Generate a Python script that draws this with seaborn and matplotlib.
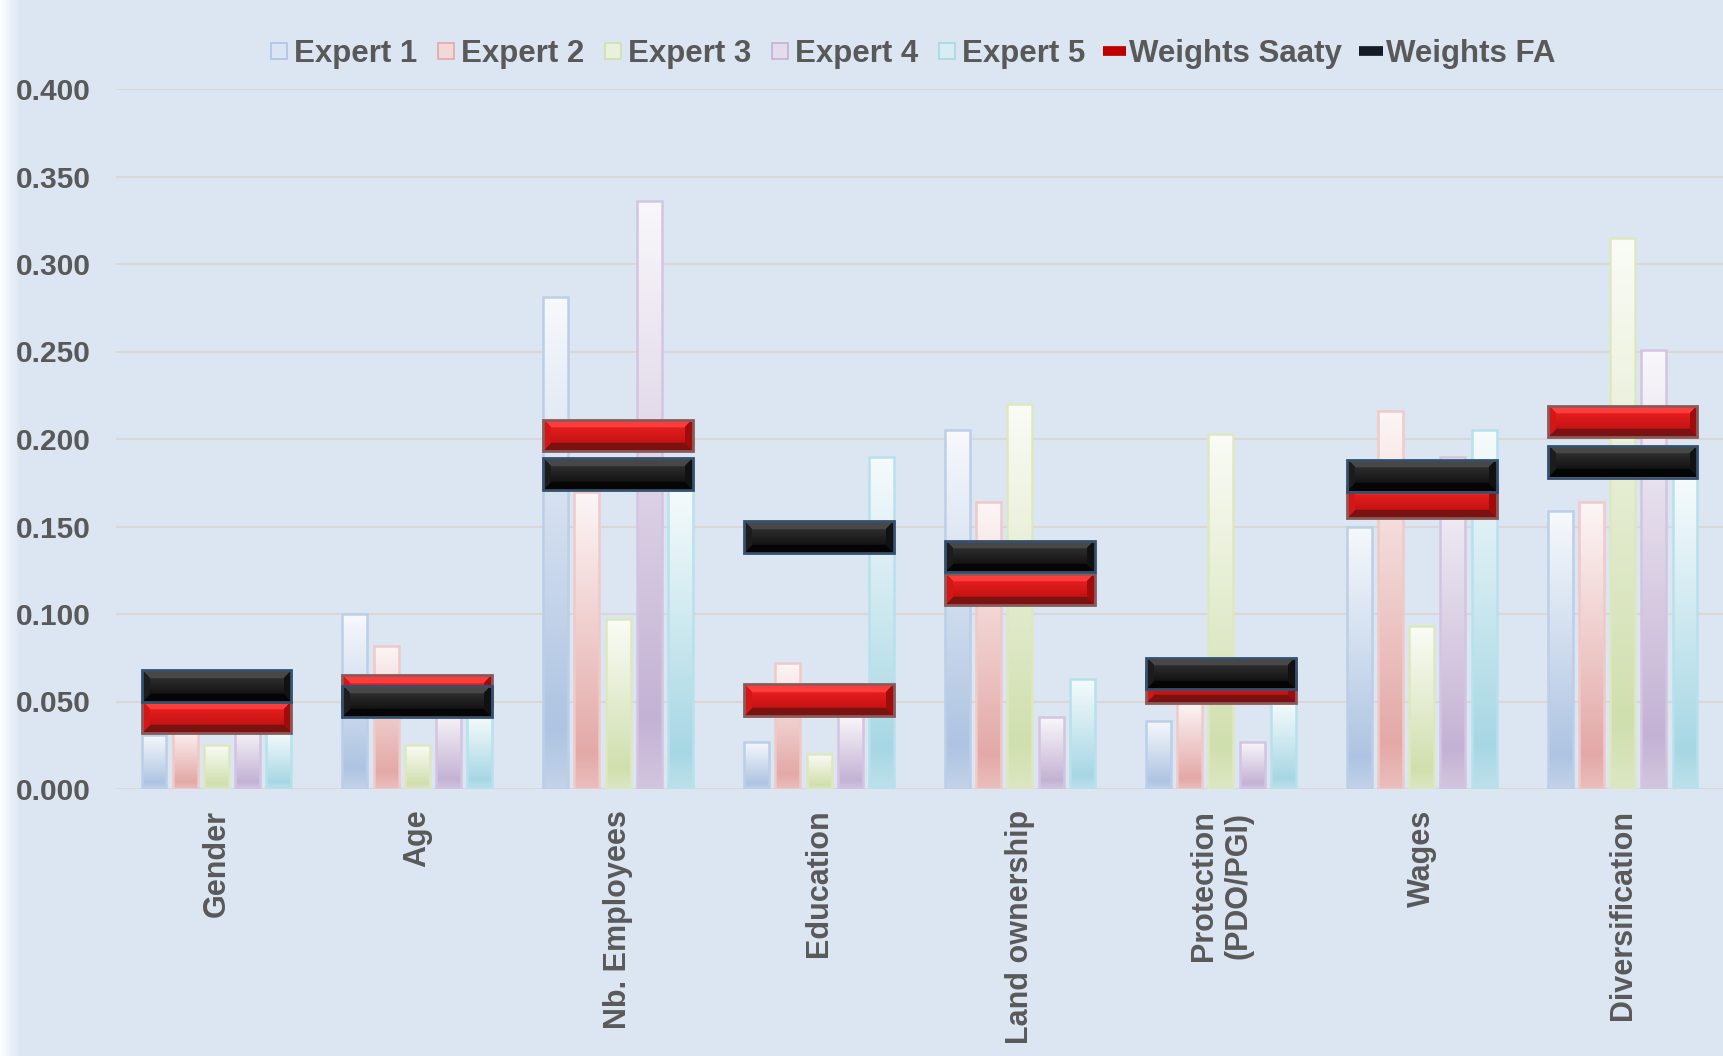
import numpy as np
import pandas as pd
import matplotlib
matplotlib.use("Agg")
import matplotlib.pyplot as plt
import seaborn as sns
from matplotlib.colors import LinearSegmentedColormap, to_rgb
from matplotlib.lines import Line2D

# ---------------- data ----------------
categories = ["Gender", "Age", "Nb. Employees", "Education", "Land ownership",
              "Protection\n(PDO/PGI)", "Wages", "Diversification"]
experts = ["Expert 1", "Expert 2", "Expert 3", "Expert 4", "Expert 5"]

expert1 = [0.031, 0.100, 0.281, 0.027, 0.205, 0.039, 0.150, 0.159]
expert2 = [0.035, 0.082, 0.170, 0.072, 0.164, 0.050, 0.216, 0.164]
expert3 = [0.025, 0.025, 0.097, 0.020, 0.220, 0.203, 0.093, 0.315]
expert4 = [0.035, 0.045, 0.336, 0.042, 0.041, 0.027, 0.190, 0.251]
expert5 = [0.033, 0.042, 0.172, 0.190, 0.063, 0.050, 0.205, 0.178]

weights_saaty = [0.041, 0.056, 0.202, 0.051, 0.114, 0.058, 0.164, 0.210]
weights_fa = [0.059, 0.050, 0.180, 0.144, 0.133, 0.066, 0.179, 0.187]

y_ticks = [0.0, 0.05, 0.10, 0.15, 0.20, 0.25, 0.30, 0.35, 0.40]

# ---------------- style ----------------
BG = "#dce6f2"
TEXT = "#595959"
GRID = "#d9d7d8"
base_colors = ["#aec4e2", "#e3a9a7", "#d0dfae", "#c4b2d4", "#a7d7e4"]
edge_colors = ["#bccfe8", "#f0c9c9", "#dde8bf", "#d3c5e1", "#b7e1eb"]

sns.set_theme(style="white")
plt.rcParams["font.family"] = ["Liberation Sans", "DejaVu Sans"]
plt.rcParams["font.weight"] = "bold"

W_IN, H_IN, DPI = 17.23, 10.56, 100
fig = plt.figure(figsize=(W_IN, H_IN), dpi=DPI, facecolor=BG)

# soft light fade along the left border of the chart frame
edge_ax = fig.add_axes([0, 0, 0.012, 1])
fade = np.linspace(0, 1, 64)[None, :, None]
bg_rgb = np.array(to_rgb(BG))
edge_ax.imshow((1 - fade) * np.array([0.99, 0.995, 1.0]) + fade * bg_rgb,
               aspect="auto", extent=[0, 1, 0, 1])
edge_ax.set_axis_off()

AX_L, AX_B = 116 / 1723, 1 - 789 / 1056
AX_W, AX_H = 1 - AX_L, (789 - 89) / 1056
ax = fig.add_axes([AX_L, AX_B, AX_W, AX_H])
ax.set_facecolor(BG)

long = pd.DataFrame({
    "category": categories * len(experts),
    "expert": np.repeat(experts, len(categories)),
    "weight": expert1 + expert2 + expert3 + expert4 + expert5,
})

GROUP_W, GAP = 0.777, 0.2
sns.barplot(data=long, x="category", y="weight", hue="expert",
            order=categories, hue_order=experts, palette=base_colors,
            width=GROUP_W, gap=GAP, saturation=1, errorbar=None,
            legend=False, ax=ax, zorder=2)

ax.set_xlim(-0.5, len(categories) - 0.5)
ax.set_ylim(0, 0.4)


def mix(c, w, f):
    c, w = np.array(to_rgb(c)), np.array(to_rgb(w))
    return tuple((1 - f) * c + f * w)


# vertical gradient fill on every expert bar: pale at the top, full tint near the base
grad = np.linspace(0, 1, 256)[:, None]
for container, base, edge in zip(ax.containers, base_colors, edge_colors):
    cmap = LinearSegmentedColormap.from_list(
        "g", [(0.0, mix(base, "white", 0.25)), (0.12, base),
              (0.55, mix(base, "white", 0.45)), (1.0, mix(base, "white", 0.9))])
    for patch in container:
        x0, y0 = patch.get_x(), patch.get_y()
        w, h = patch.get_width(), patch.get_height()
        im = ax.imshow(grad, extent=[x0, x0 + w, y0, y0 + h], origin="lower",
                       aspect="auto", cmap=cmap, zorder=2, interpolation="bilinear")
        im.set_clip_path(patch)
        patch.set_facecolor("none")
        patch.set_edgecolor(edge)
        patch.set_linewidth(1.8)
        patch.set_zorder(2.1)

# ---------------- weight markers (bevelled bars) ----------------
MARK_W = GROUP_W * (1 - GAP / len(experts))
MARK_H = 0.018
ax_px_w = AX_W * W_IN * DPI
ax_px_h = AX_H * H_IN * DPI
w_px = int(round(MARK_W * ax_px_w / len(categories)))
h_px = int(round(MARK_H * ax_px_h / 0.4))


def bevel_image(face_top, face_bot, top, bottom, left, right, bevel=8):
    ys, xs = np.mgrid[0:h_px, 0:w_px] + 0.5
    dl, dr, dt, db = xs, w_px - xs, ys, h_px - ys
    t = (ys / h_px)[..., None]
    img = (1 - t) * np.array(to_rgb(face_top)) + t * np.array(to_rgb(face_bot))
    m = np.minimum.reduce([dl, dr, dt, db])
    in_b = m < bevel
    for d, col in ((dt, top), (db, bottom), (dl, left), (dr, right)):
        mask = in_b & (d == m)
        img[mask] = to_rgb(col)
    return img


red_img = bevel_image("#f42424", "#b50c0c", "#ff3c3c", "#7a1212", "#d41616", "#a00c0c")
blk_img = bevel_image("#3a3a3a", "#060606", "#474747", "#050505", "#1c1c1c", "#111111")

x_pos = np.arange(len(categories))
for values, img, edge, z in ((weights_saaty, red_img, "#8a5a5a", 3),
                             (weights_fa, blk_img, "#35506c", 4)):
    bars = ax.bar(x_pos, [MARK_H] * len(values),
                  bottom=np.array(values) - MARK_H / 2, width=MARK_W,
                  facecolor="none", edgecolor=edge, linewidth=2.0, zorder=z + 0.1)
    for patch in bars:
        x0, y0 = patch.get_x(), patch.get_y()
        im = ax.imshow(img, extent=[x0, x0 + patch.get_width(), y0, y0 + patch.get_height()],
                       origin="upper", aspect="auto", zorder=z, interpolation="bilinear")
        im.set_clip_path(patch)

ax.set_xlim(-0.5, len(categories) - 0.5)
ax.set_ylim(0, 0.4)

# ---------------- axes ----------------
ax.set_yticks(y_ticks)
ax.set_yticklabels([f"{v:.3f}" for v in y_ticks])
ax.yaxis.grid(True, color=GRID, linewidth=1.6, zorder=0)
ax.xaxis.grid(False)
ax.set_axisbelow(True)
for s in ax.spines.values():
    s.set_visible(False)
ax.set_xlabel("")
ax.set_ylabel("")
ax.tick_params(axis="y", length=0, pad=18, labelsize=21.5, labelcolor=TEXT)
ax.tick_params(axis="x", length=0, pad=15, labelsize=22, labelcolor=TEXT)
ax.set_xticks(x_pos)
ax.set_xticklabels(categories, rotation=90, ha="center", va="top",
                   multialignment="center", fontweight="bold")
for lab in ax.get_yticklabels():
    lab.set_fontweight("bold")

# ---------------- legend ----------------
handles = []
for base, edge in zip(base_colors, edge_colors):
    handles.append(Line2D([], [], linestyle="none", marker="s", markersize=12,
                          markerfacecolor=mix(base, "white", 0.55),
                          markeredgecolor=base, markeredgewidth=1.2))
handles.append(Line2D([], [], color="#c00000", linewidth=7, solid_capstyle="butt"))
handles.append(Line2D([], [], color="#141c26", linewidth=7, solid_capstyle="butt"))
labels = experts + ["Weights Saaty", "Weights FA"]
leg = fig.legend(handles, labels, loc="center", bbox_to_anchor=(0.529, 0.949),
                 ncol=7, frameon=False, fontsize=22.5, handlelength=0.75,
                 handletextpad=0.1, columnspacing=0.55)
for t in leg.get_texts():
    t.set_color(TEXT)
    t.set_fontweight("bold")

fig.savefig("out.png", dpi=DPI, facecolor=BG)
